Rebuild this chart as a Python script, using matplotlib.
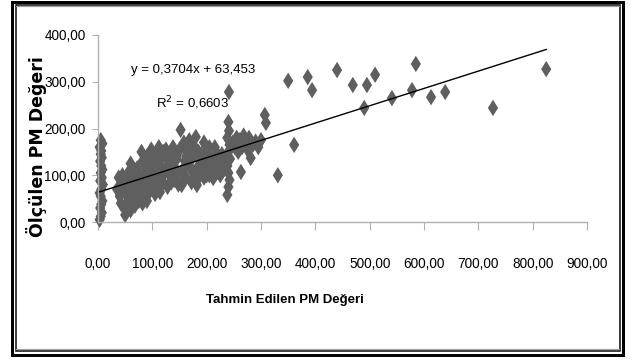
import matplotlib
matplotlib.use("Agg")
import matplotlib.pyplot as plt
import numpy as np
from matplotlib.patches import Rectangle
from matplotlib.lines import Line2D
from matplotlib.path import Path

plt.rcParams['font.family'] = ['Liberation Sans', 'DejaVu Sans']

# tahmin edilen (x) ve ölçülen (y) PM değerleri
x_col0 = [3, 5, 7, 4, 6, 8, 5, 3, 6, 9, 4, 7, 5, 8, 6, 4, 7, 5, 6, 3, 8, 5]
y_col0 = [5, 12, 20, 30, 38, 45, 55, 62, 70, 80, 88, 95, 105, 112, 120, 130, 138, 145, 152, 160, 168, 175]

x_blob = [35, 38, 40, 42, 45, 45, 48, 50, 52, 55, 55, 58, 60, 60, 62, 65, 65, 68, 70, 72,
          72, 75, 78, 80, 80, 82, 85, 85, 88, 90, 90, 92, 95, 95, 98, 100, 100, 102, 105, 108,
          110, 112, 114, 115, 118, 120, 122, 125, 128, 130, 132, 135, 138, 140, 142, 145, 148, 150, 152, 154,
          155, 158, 160, 162, 165, 168, 170, 172, 175, 178, 180, 182, 185, 188, 190, 192, 195, 198, 200, 202,
          205, 208, 210, 212, 215, 218, 222, 225, 228, 232,
          45, 50, 58, 62, 68, 75, 78, 82, 88, 92, 98, 105, 108, 112, 118, 125, 128, 135, 138, 145,
          148, 158, 162, 168, 172, 178, 185, 188, 195, 200, 205, 210, 215, 220, 225, 230, 235, 215,
          195, 170, 140, 120]
y_blob = [70, 95, 55, 40, 80, 100, 30, 15, 60, 90, 45, 110, 125, 25, 70, 50, 100, 35, 80, 60,
          115, 45, 95, 150, 70, 130, 55, 105, 85, 140, 45, 120, 65, 100, 155, 80, 130, 110, 60, 145,
          95, 160, 64, 120, 140, 85, 105, 155, 75, 130, 100, 145, 160, 90, 115, 135, 80, 155, 197, 79,
          110, 170, 130, 95, 150, 175, 115, 85, 140, 160, 182, 79, 120, 100, 145, 130, 95, 110, 125, 150,
          100, 135, 115, 94, 140, 105, 125, 100, 145, 130,
          65, 75, 85, 40, 110, 85, 65, 40, 120, 75, 95, 120, 75, 130, 100, 115, 140, 85, 120, 100,
          150, 90, 140, 120, 150, 100, 150, 130, 140, 100, 160, 130, 110, 145, 120, 110, 140, 160,
          170, 165, 145, 150]

x_col240 = [238, 240, 242, 240, 238, 243, 240, 242, 238, 241, 240, 241]
y_col240 = [58, 75, 90, 105, 120, 135, 150, 165, 180, 195, 214, 278]

x_mid = [248, 252, 255, 258, 260, 263, 265, 268, 272, 275, 278, 281, 285, 290, 295, 300,
         307, 309, 331, 361, 350]
y_mid = [170, 160, 180, 150, 175, 107, 160, 185, 170, 155, 180, 137, 165, 172, 160, 175,
         229, 212, 100, 165, 302]

x_high = [386, 394, 440, 469, 490, 495, 510, 541, 585, 578, 613, 639, 727, 825]
y_high = [310, 282, 325, 293, 244, 293, 315, 265, 338, 282, 267, 278, 244, 327]

tahmin = np.array(x_col0 + x_blob + x_col240 + x_mid + x_high, dtype=float)
olculen = np.array(y_col0 + y_blob + y_col240 + y_mid + y_high, dtype=float)

slope, intercept, r2 = 0.3704, 63.453, 0.6603

fig = plt.figure(figsize=(6.3, 3.6), dpi=100)
ax = fig.add_axes([0.1556, 0.3833, 0.7761, 0.5195])

diamond = Path([(0, 1), (0.62, 0), (0, -1), (-0.62, 0), (0, 1)],
               [Path.MOVETO, Path.LINETO, Path.LINETO, Path.LINETO, Path.CLOSEPOLY])
ax.scatter(tahmin, olculen, marker=diamond, s=140, color='#5f5f5f',
           edgecolors='none', zorder=2, clip_on=False)

xl = np.array([tahmin.min(), tahmin.max()])
ax.plot(xl, slope * xl + intercept, color='black', lw=1.0, zorder=3)

ax.set_xlim(0, 900)
ax.set_ylim(0, 400)
ax.set_xticks(np.arange(0, 901, 100))
ax.set_yticks(np.arange(0, 401, 100))
ax.set_xticklabels([f"{v:.2f}".replace('.', ',') for v in np.arange(0, 901, 100)])
ax.set_yticklabels([f"{v:.2f}".replace('.', ',') for v in np.arange(0, 401, 100)])

for s in ['top', 'right']:
    ax.spines[s].set_visible(False)
for s in ['left', 'bottom']:
    ax.spines[s].set_color('#b0b0b0')
    ax.spines[s].set_linewidth(1.0)
ax.tick_params(axis='x', direction='out', length=6, color='#b0b0b0', pad=19, labelsize=9.8)
ax.tick_params(axis='y', direction='out', length=4, color='#b0b0b0', pad=5, labelsize=9.8)

ax.text(193 / 630, 1 - 70 / 360, f"y = {slope:.4f}x + {intercept:.3f}".replace('.', ','),
        transform=fig.transFigure, ha='center', va='center', fontsize=9.5)
ax.text(193 / 630, 1 - 103 / 360, f"R$^2$ = {r2:.4f}".replace('.', ','),
        transform=fig.transFigure, ha='center', va='center', fontsize=9.5)

fig.text(285 / 630, 1 - 300 / 360, "Tahmin Edilen PM Değeri", ha='center', va='center',
         fontsize=9.5, fontweight='bold')
fig.text(37 / 630, 1 - 147 / 360, "Ölçülen PM Değeri", ha='center', va='center',
         rotation=90, fontsize=12.5, fontweight='bold', family=['DejaVu Sans'])

# double frame around the chart
W, H = 630.0, 360.0
fig.add_artist(Rectangle((12 / W, 1 - 355 / H), 610.5 / W, 353.5 / H, transform=fig.transFigure,
                         fill=False, ec='black', lw=3 * 0.72))
fig.add_artist(Rectangle((15.5 / W, 1 - 351 / H), 604 / W, 346.5 / H, transform=fig.transFigure,
                         fill=False, ec='black', lw=1.5 * 0.72))
for yy in (6, 349):
    fig.add_artist(Line2D([16 / W, 619 / W], [1 - yy / H, 1 - yy / H], transform=fig.transFigure,
                          color='#a0a0a0', lw=1.2 * 0.72))

fig.savefig("out.png", dpi=100)
